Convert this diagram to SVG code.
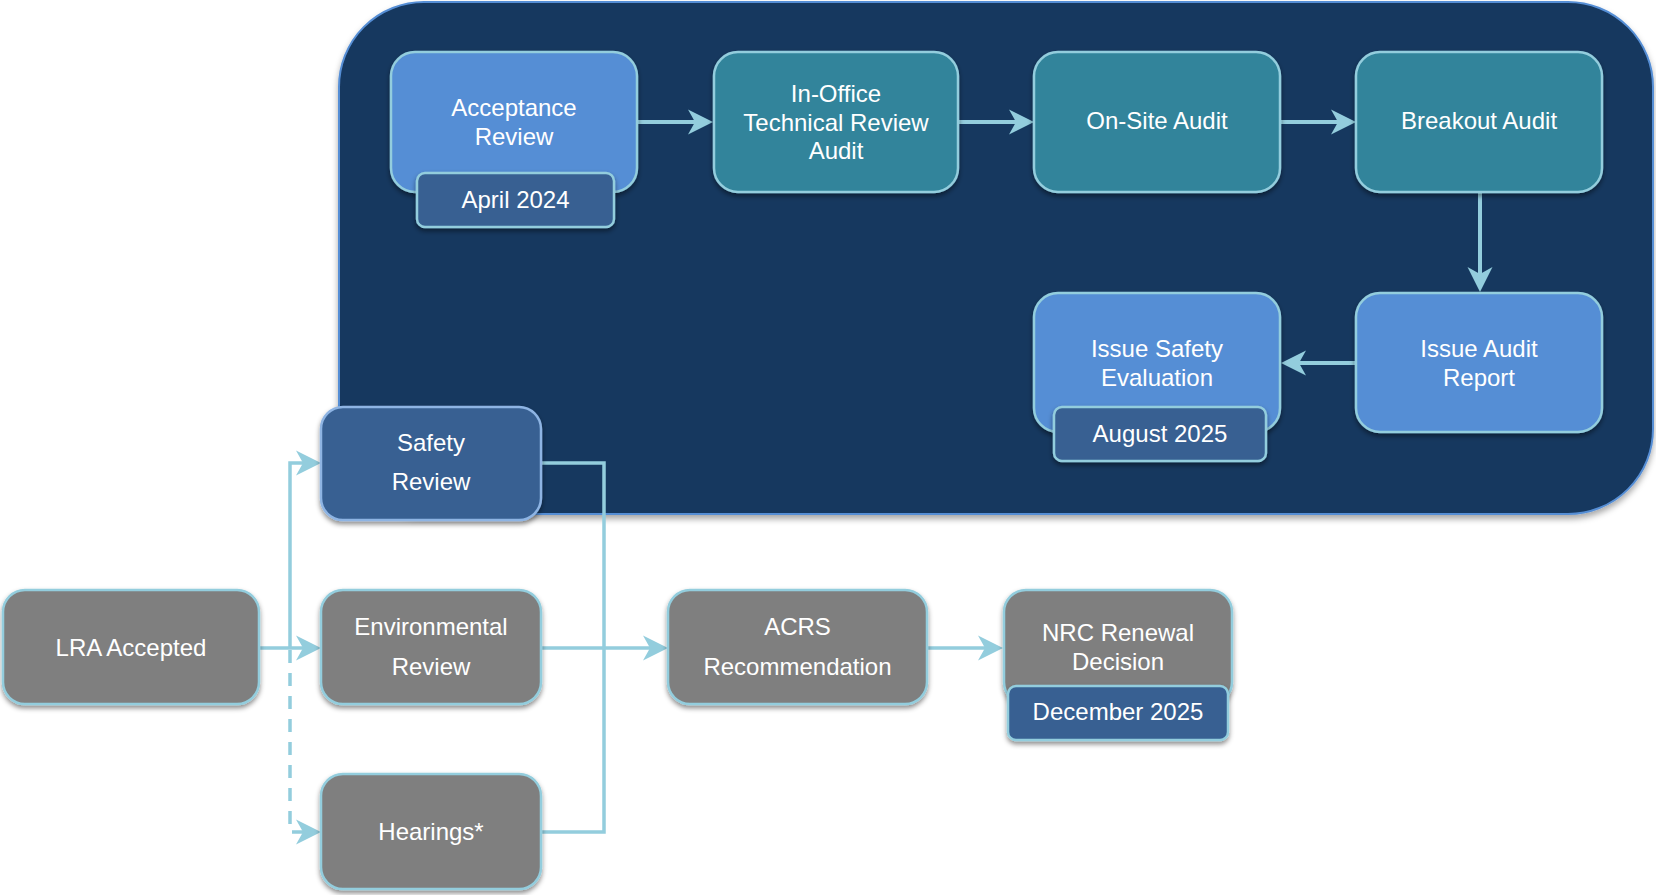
<svg xmlns="http://www.w3.org/2000/svg" width="1656" height="895" viewBox="0 0 1656 895">
<defs>
<filter id="sh" x="-10%" y="-10%" width="120%" height="130%">
<feDropShadow dx="0" dy="3" stdDeviation="2.5" flood-color="#000" flood-opacity="0.45"/>
</filter>
<filter id="shOuter" x="-5%" y="-5%" width="110%" height="115%">
<feDropShadow dx="0" dy="4" stdDeviation="3" flood-color="#000" flood-opacity="0.35"/>
</filter>
<marker id="ah" viewBox="-26 -13 27 26" markerWidth="27" markerHeight="26" refX="-17" refY="0" orient="auto" markerUnits="userSpaceOnUse">
<path d="M0,0 L-25,-12.5 L-18,0 L-25,12.5 Z" fill="#93CDDD"/>
</marker>
</defs>
<style>
.node{stroke:#93CDDD;stroke-width:2.5;filter:url(#sh)}
.blue{fill:#558ED5}
.teal{fill:#31849B}
.dark{fill:#376092}
.gray{fill:#7F7F7F}
.safety{fill:#376092;stroke:#8EB4E3}
.t{font-family:"Liberation Sans",Arial,sans-serif;font-size:24px;fill:#FFFFFF;text-anchor:middle}
.c{fill:none;stroke:#93CDDD;stroke-width:4}
.c2{fill:none;stroke:#93CDDD;stroke-width:3.5}
.dash{stroke-dasharray:13 10}
</style>
<g id="panel">
<rect x="339" y="2" width="1314" height="512" rx="85" ry="85" fill="#17375E" stroke="#558ED5" stroke-width="2" filter="url(#shOuter)"/>
</g>
<g id="connectors">
<path class="c" d="M637,122 H696" marker-end="url(#ah)"/>
<path class="c" d="M958,122 H1017" marker-end="url(#ah)"/>
<path class="c" d="M1280,122 H1339" marker-end="url(#ah)"/>
<path class="c" d="M1480,192 V275" marker-end="url(#ah)"/>
<path class="c" d="M1356,363 H1298" marker-end="url(#ah)"/>
<path class="c2" d="M259,648 H304" marker-end="url(#ah)"/>
<path class="c2" d="M290,648 V463 H304" marker-end="url(#ah)"/>
<path class="c2 dash" d="M290,650 V832 H304" marker-end="url(#ah)"/>
<path class="c2" d="M541,463 H604 V832 H541"/>
<path class="c2" d="M541,648 H651" marker-end="url(#ah)"/>
<path class="c2" d="M927,648 H986" marker-end="url(#ah)"/>
</g>
<g id="acceptance-review">
<rect class="node blue" x="391" y="52" width="246" height="140" rx="24"/>
<text class="t" x="514" y="116">Acceptance</text>
<text class="t" x="514" y="145">Review</text>
</g>
<g id="april-2024">
<rect class="node dark" x="417" y="173" width="197" height="54" rx="8"/>
<text class="t" x="515.5" y="207.5">April 2024</text>
</g>
<g id="in-office">
<rect class="node teal" x="714" y="52" width="244" height="140" rx="24"/>
<text class="t" x="836" y="102">In-Office</text>
<text class="t" x="836" y="130.5">Technical Review</text>
<text class="t" x="836" y="159">Audit</text>
</g>
<g id="on-site-audit">
<rect class="node teal" x="1034" y="52" width="246" height="140" rx="24"/>
<text class="t" x="1157" y="129">On-Site Audit</text>
</g>
<g id="breakout-audit">
<rect class="node teal" x="1356" y="52" width="246" height="140" rx="24"/>
<text class="t" x="1479" y="129">Breakout Audit</text>
</g>
<g id="issue-audit-report">
<rect class="node blue" x="1356" y="293" width="246" height="139" rx="24"/>
<text class="t" x="1479" y="357">Issue Audit</text>
<text class="t" x="1479" y="386">Report</text>
</g>
<g id="issue-safety-evaluation">
<rect class="node blue" x="1034" y="293" width="246" height="139" rx="24"/>
<text class="t" x="1157" y="357">Issue Safety</text>
<text class="t" x="1157" y="386">Evaluation</text>
</g>
<g id="august-2025">
<rect class="node dark" x="1054" y="407" width="212" height="54" rx="8"/>
<text class="t" x="1160" y="442">August 2025</text>
</g>
<g id="safety-review">
<rect class="node safety" x="321" y="407" width="220" height="113" rx="22"/>
<text class="t" x="431" y="451">Safety</text>
<text class="t" x="431" y="490">Review</text>
</g>
<g id="lra-accepted">
<rect class="node gray" x="3" y="590" width="256" height="114" rx="22"/>
<text class="t" x="131" y="656">LRA Accepted</text>
</g>
<g id="environmental-review">
<rect class="node gray" x="321" y="590" width="220" height="114" rx="22"/>
<text class="t" x="431" y="635">Environmental</text>
<text class="t" x="431" y="675">Review</text>
</g>
<g id="hearings">
<rect class="node gray" x="321" y="774" width="220" height="115" rx="22"/>
<text class="t" x="431" y="840">Hearings*</text>
</g>
<g id="acrs-recommendation">
<rect class="node gray" x="668" y="590" width="259" height="114" rx="22"/>
<text class="t" x="797.5" y="635">ACRS</text>
<text class="t" x="797.5" y="675">Recommendation</text>
</g>
<g id="nrc-renewal-decision">
<rect class="node gray" x="1004" y="590" width="228" height="114" rx="22"/>
<text class="t" x="1118" y="641">NRC Renewal</text>
<text class="t" x="1118" y="670">Decision</text>
</g>
<g id="december-2025">
<rect class="node dark" x="1008" y="686" width="220" height="54" rx="8"/>
<text class="t" x="1118" y="720">December 2025</text>
</g>
</svg>
